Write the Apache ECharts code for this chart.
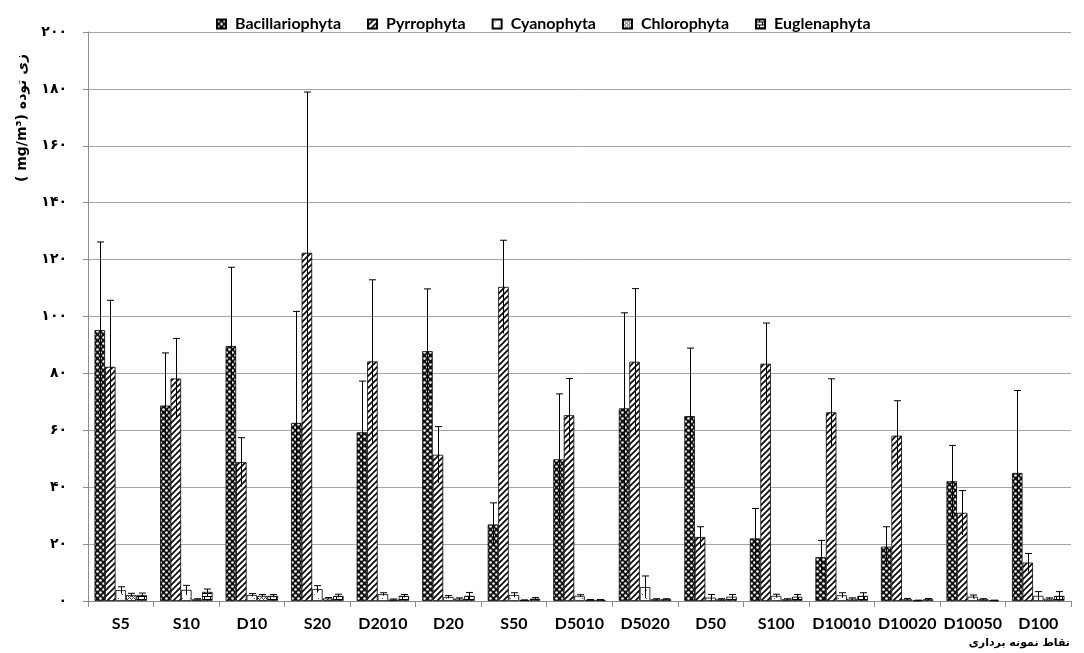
<!DOCTYPE html>
<html>
<head>
<meta charset="utf-8">
<script src="https://cdn.jsdelivr.net/npm/echarts@6/dist/echarts.min.js"></script>
<style>
  html, body { margin: 0; padding: 0; background: #fff; }
  #chart { width: 1084px; height: 653px; }
</style>
</head>
<body>
<div id="chart"></div>
<script>
// Sampling stations
const categories = ['S5', 'S10', 'D10', 'S20', 'D2010', 'D20', 'S50', 'D5010', 'D5020', 'D50', 'S100', 'D10010', 'D10020', 'D10050', 'D100'];

// Mean biomass (mg/m3) per phylum
const bacillariophyta = [95.2, 68.7, 89.6, 62.6, 59.3, 87.8, 26.9, 49.8, 67.7, 65.0, 22.0, 15.4, 19.1, 42.1, 45.0];
const pyrrophyta      = [82.3, 78.2, 48.8, 122.4, 84.2, 51.4, 110.4, 65.3, 84.1, 22.5, 83.4, 66.3, 58.1, 31.0, 13.5];
const cyanophyta      = [3.8, 3.9, 2.1, 4.2, 2.4, 1.4, 2.1, 1.8, 4.9, 1.2, 1.8, 2.0, 0.6, 1.5, 1.8];
const chlorophyta     = [2.1, 0.6, 1.8, 0.9, 0.5, 0.8, 0.3, 0.4, 0.6, 0.6, 0.6, 0.8, 0.2, 0.6, 0.8];
const euglenaphyta    = [2.1, 3.2, 1.8, 1.8, 1.8, 1.8, 0.8, 0.4, 0.6, 1.5, 1.5, 1.8, 0.6, 0.2, 1.8];

// Standard deviations
const bacillariophytaErr = [31.0, 18.5, 27.7, 39.2, 18.0, 21.9, 7.6, 23.0, 33.6, 23.9, 10.5, 5.9, 7.0, 12.6, 29.0];
const pyrrophytaErr      = [23.4, 14.1, 8.6, 56.5, 28.7, 9.9, 16.4, 12.9, 25.7, 3.6, 14.3, 11.8, 12.3, 7.8, 3.2];
const cyanophytaErr      = [1.2, 1.6, 0.5, 1.2, 0.5, 0.5, 0.8, 0.4, 3.9, 1.1, 0.6, 0.9, 0.3, 0.6, 1.5];
const chlorophytaErr     = [0.6, 0.2, 0.5, 0.3, 0.2, 0.3, 0.1, 0.1, 0.2, 0.2, 0.2, 0.3, 0.1, 0.2, 0.3];
const euglenaphytaErr    = [0.7, 1.0, 0.5, 0.6, 0.5, 1.2, 0.4, 0.1, 0.2, 0.8, 0.8, 1.1, 0.3, 0.1, 1.5];

const seriesNames = ['Bacillariophyta', 'Pyrrophyta', 'Cyanophyta', 'Chlorophyta', 'Euglenaphyta'];
const seriesValues = [bacillariophyta, pyrrophyta, cyanophyta, chlorophyta, euglenaphyta];
const seriesErrors = [bacillariophytaErr, pyrrophytaErr, cyanophytaErr, chlorophytaErr, euglenaphytaErr];

const yTicks = { min: 0, max: 200, interval: 20 };

// Persian digits for the value axis
const faDigits = '۰۱۲۳۴۵۶۷۸۹';
function toPersian(n) {
  return String(n).replace(/[0-9]/g, d => faDigits[+d]);
}

// Hatch fills drawn on small tiles
function tile(w, h, draw) {
  const c = document.createElement('canvas');
  c.width = w; c.height = h;
  const ctx = c.getContext('2d');
  ctx.fillStyle = '#fff';
  ctx.fillRect(0, 0, w, h);
  draw(ctx);
  return { image: c, repeat: 'repeat' };
}
const fills = [
  // dark field with small white rings
  tile(6, 6, ctx => {
    ctx.fillStyle = '#111';
    ctx.fillRect(0, 0, 6, 6);
    ctx.fillStyle = '#fff';
    ctx.beginPath(); ctx.arc(1.5, 1.5, 1.3, 0, Math.PI * 2); ctx.fill();
    ctx.beginPath(); ctx.arc(4.5, 4.5, 1.3, 0, Math.PI * 2); ctx.fill();
  }),
  // wide forward diagonals
  tile(6, 6, ctx => {
    ctx.strokeStyle = '#000';
    ctx.lineWidth = 1.6;
    ctx.beginPath();
    ctx.moveTo(-1, 7); ctx.lineTo(7, -1);
    ctx.moveTo(-1, 1); ctx.lineTo(1, -1);
    ctx.moveTo(5, 7); ctx.lineTo(7, 5);
    ctx.stroke();
  }),
  // sparse dots
  tile(8, 8, ctx => {
    ctx.fillStyle = '#555';
    ctx.fillRect(2, 2, 1, 1);
    ctx.fillRect(6, 6, 1, 1);
  }),
  // fine checker with diagonal grain
  tile(4, 4, ctx => {
    ctx.fillStyle = '#444';
    ctx.fillRect(0, 0, 1, 1);
    ctx.fillRect(1, 1, 1, 1);
    ctx.fillRect(2, 2, 1, 1);
    ctx.fillRect(3, 3, 1, 1);
    ctx.fillRect(2, 0, 1, 1);
    ctx.fillRect(0, 2, 1, 1);
  }),
  // horizontal bricks
  tile(6, 6, ctx => {
    ctx.fillStyle = '#000';
    ctx.fillRect(0, 2, 6, 1);
    ctx.fillRect(0, 5, 6, 1);
    ctx.fillRect(3, 0, 1, 2);
    ctx.fillRect(0, 3, 1, 2);
  })
];

const barSeries = seriesNames.map((name, i) => ({
  name: name,
  type: 'bar',
  data: seriesValues[i],
  barGap: '0%',
  barCategoryGap: '20%',
  itemStyle: { color: fills[i], borderColor: '#000', borderWidth: 0.8 },
  emphasis: { disabled: true },
  z: 2
}));

// Error bar records: [category index, series index, mean, sd]
const errorData = [];
seriesValues.forEach((vals, si) => {
  vals.forEach((v, ci) => errorData.push([ci, si, v, seriesErrors[si][ci]]));
});

const errorSeries = {
  type: 'custom',
  name: 'sd',
  data: errorData,
  encode: { x: 0, y: 2 },
  z: 5,
  silent: true,
  renderItem: function (params, api) {
    const ci = api.value(0), si = api.value(1), v = api.value(2), e = api.value(3);
    const band = api.size([1, 0])[0];
    const bw = band * 0.8 / seriesNames.length;
    const cx = Math.round(api.coord([ci, 0])[0] - band * 0.4 + bw * (si + 0.5)) + 0.5;
    const yTop = api.coord([ci, v + e])[1];
    const yBot = api.coord([ci, Math.max(0, v - e)])[1];
    const st = { stroke: '#000', lineWidth: 1 };
    return {
      type: 'group',
      children: [
        { type: 'line', shape: { x1: cx, y1: yBot, x2: cx, y2: yTop }, style: st },
        { type: 'line', shape: { x1: cx - 3.5, y1: yTop, x2: cx + 3.5, y2: yTop }, style: st }
      ]
    };
  }
};

const chart = echarts.init(document.getElementById('chart'), null, { renderer: 'canvas' });
chart.setOption({
  animation: false,
  backgroundColor: '#fff',
  grid: { left: 88, right: 13, top: 32, bottom: 52, containLabel: false },
  legend: {
    data: seriesNames,
    top: 11,
    left: 211,
    itemWidth: 9,
    itemHeight: 9,
    itemGap: 26,
    icon: 'rect',
    selectedMode: false,
    textStyle: { fontFamily: 'Lato', fontWeight: 'bold', fontSize: 16, color: '#000', padding: [0, 0, 0, 4] }
  },
  xAxis: {
    type: 'category',
    data: categories,
    axisLine: { lineStyle: { color: '#8c8c8c', width: 1 } },
    axisTick: { show: true, alignWithLabel: false, length: 6, lineStyle: { color: '#8c8c8c' } },
    axisLabel: { color: '#000', fontFamily: 'Lato', fontWeight: 'bold', fontSize: 16, margin: 15, interval: 0 },
    splitLine: { show: false }
  },
  yAxis: {
    type: 'value',
    min: yTicks.min,
    max: yTicks.max,
    interval: yTicks.interval,
    axisLine: { show: true, lineStyle: { color: '#8c8c8c', width: 1 } },
    axisTick: { show: true, length: 5, lineStyle: { color: '#8c8c8c' } },
    axisLabel: {
      color: '#000', fontFamily: 'DejaVu Sans', fontWeight: 'bold', fontSize: 14, margin: 21,
      formatter: v => toPersian(v)
    },
    splitLine: { show: true, lineStyle: { color: '#a6a6a6', width: 1 } }
  },
  graphic: [
    {
      type: 'text',
      x: 22, y: 118,
      rotation: Math.PI / 2,
      style: {
        text: '( mg/m³) زی توده',
        fill: '#000',
        font: 'bold 14px "DejaVu Sans"',
        align: 'center',
        verticalAlign: 'middle'
      }
    },
    {
      type: 'text',
      right: 14, top: 638,
      style: {
        text: 'نقاط نمونه برداری',
        fill: '#000',
        font: 'bold 11px "DejaVu Sans"'
      }
    }
  ],
  series: barSeries.concat([errorSeries])
});
</script>
</body>
</html>
